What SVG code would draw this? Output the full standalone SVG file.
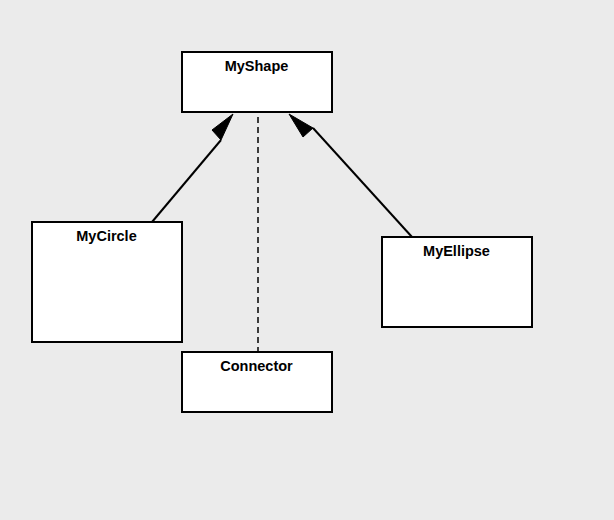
<svg xmlns="http://www.w3.org/2000/svg" width="614" height="520" viewBox="0 0 614 520">
<style>
.box{fill:#fff;stroke:#000;stroke-width:2}
.lbl{font-family:"Liberation Sans",Arial,sans-serif;font-weight:bold;font-size:14.5px;text-anchor:middle;fill:#000}
.edge{fill:none;stroke:#000;stroke-width:2}
.dash{fill:none;stroke:#000;stroke-width:1.5;stroke-dasharray:6,4}
.head{fill:#000;stroke:#000;stroke-width:1}
</style>
<rect width="614" height="520" fill="#ebebeb"/>
<g id="connectors">
<path class="edge" d="M152,222 L221,140"/>
<polygon class="head" points="233,114 212,130 221,140"/>
<path class="edge" d="M412,237 L313,128"/>
<polygon class="head" points="289,114 303,137 313,128"/>
<path class="dash" d="M258,117 L258,352"/>
</g>
<g id="MyShape">
<rect class="box" x="182" y="52" width="150" height="60"/>
<text class="lbl" x="256.5" y="71">MyShape</text>
</g>
<g id="MyCircle">
<rect class="box" x="32" y="222" width="150" height="120"/>
<text class="lbl" x="106.5" y="241">MyCircle</text>
</g>
<g id="MyEllipse">
<rect class="box" x="382" y="237" width="150" height="90"/>
<text class="lbl" x="456.5" y="256">MyEllipse</text>
</g>
<g id="Connector">
<rect class="box" x="182" y="352" width="150" height="60"/>
<text class="lbl" x="256.5" y="371">Connector</text>
</g>
</svg>
